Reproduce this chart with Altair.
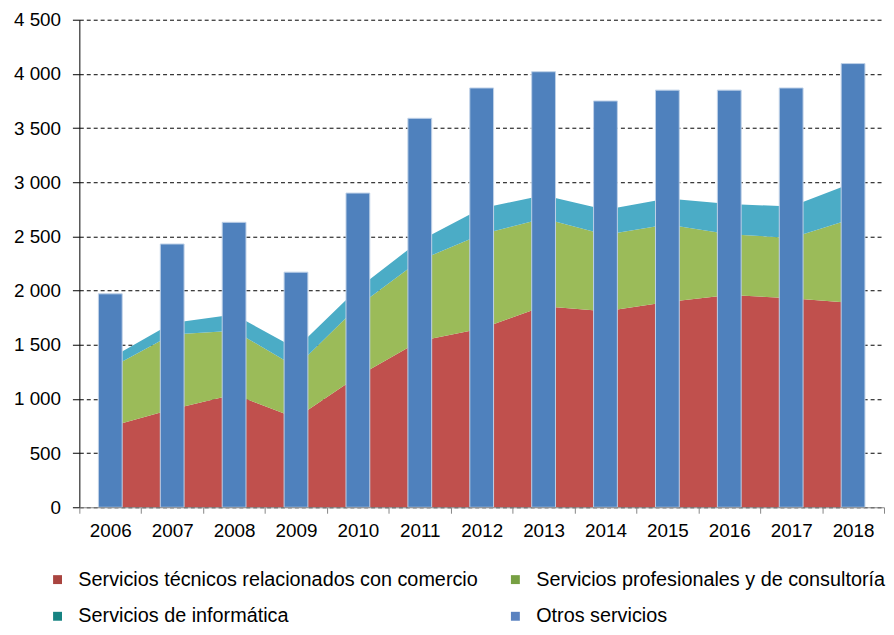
import altair as alt
import pandas as pd

years = [str(y) for y in range(2006, 2019)]
tecnicos = [745, 905, 1040, 825, 1210, 1535, 1650, 1855, 1810, 1895, 1960, 1930, 1885]
profesionales = [540, 690, 590, 470, 645, 745, 870, 810, 705, 715, 560, 555, 780]
informatica = [90, 105, 150, 170, 165, 180, 240, 215, 230, 240, 280, 290, 330]
otros = [1970, 2430, 2630, 2170, 2900, 3590, 3870, 4020, 3750, 3850, 3850, 3870, 4095]

series_names = [
    "Servicios técnicos relacionados con comercio",
    "Servicios profesionales y de consultoría",
    "Servicios de informática",
    "Otros servicios",
]
area_colors = ["#C0504D", "#9BBB59", "#4BACC6"]
bar_color = "#4F81BD"
legend_colors = ["#A9443F", "#77A043", "#168382", "#5A82C0"]
y_ticks = [0, 500, 1000, 1500, 2000, 2500, 3000, 3500, 4000, 4500]

# legend is filled column by column: order so that rows read as in the reference
legend_order = [0, 2, 1, 3]
legend_domain = [series_names[i] for i in legend_order]
legend_range = [legend_colors[i] for i in legend_order]

FONT = "Liberation Sans"

rows = []
for i, y in enumerate(years):
    for k, vals in enumerate([tecnicos, profesionales, informatica]):
        rows.append({"year": y, "serie": series_names[k], "value": vals[i], "ord": k})
area_df = pd.DataFrame(rows)
bar_df = pd.DataFrame({"year": years, "otros": otros})
legend_df = pd.DataFrame({"serie": series_names})

x_scale = alt.Scale(type="band", domain=years, paddingInner=0, paddingOuter=0)
y_scale = alt.Scale(domain=[0, 4500], nice=False, zero=True)

x_axis = alt.Axis(
    title=None, labelFont=FONT, labelFontSize=19, labelColor="black",
    labelAngle=0, labelPadding=9, domainColor="#868686", domainWidth=1,
    tickColor="#868686", tickSize=6, tickBand="extent", grid=False, zindex=1,
)
y_axis = alt.Axis(
    title=None, values=y_ticks, labelFont=FONT, labelFontSize=19,
    labelColor="black", labelPadding=12, tickColor="black", tickSize=7,
    domainColor="black", domainWidth=1, grid=True, gridColor="black",
    gridDash=[4, 3], gridWidth=1,
    labelExpr="replace(format(datum.value, ','), ',', ' ')",
)

areas = alt.Chart(area_df).mark_area(interpolate="linear").encode(
    x=alt.X("year:O", bandPosition=0.5, scale=x_scale, axis=x_axis),
    y=alt.Y("value:Q", stack="zero", scale=y_scale, axis=y_axis),
    color=alt.Color("serie:N", scale=alt.Scale(domain=series_names[:3], range=area_colors), legend=None),
    order=alt.Order("ord:Q", sort="ascending"),
)

bars = alt.Chart(bar_df).mark_bar(size=24, stroke="#BFD1E8", strokeWidth=1).encode(
    x=alt.X("year:O", scale=x_scale, axis=x_axis),
    y=alt.Y("otros:Q", scale=y_scale, axis=y_axis),
    color=alt.value(bar_color),
)

legend_layer = alt.Chart(legend_df).transform_filter("false").mark_square().encode(
    color=alt.Color(
        "serie:N",
        scale=alt.Scale(domain=legend_domain, range=legend_range),
        legend=alt.Legend(
            title=None, orient="none", legendX=-32, legendY=555, columns=2,
            columnPadding=27, rowPadding=17, symbolType="square", symbolSize=81,
            symbolOpacity=1, symbolStrokeWidth=0, labelFont=FONT, labelFontSize=20,
            labelColor="black", labelOffset=11, labelLimit=700, padding=0,
        ),
    )
)

chart = alt.layer(areas, bars, legend_layer).resolve_scale(color="independent").properties(
    width=812, height=492,
    autosize=alt.AutoSizeParams(type="none"),
    padding={"left": 72, "top": 9, "right": 2, "bottom": 118},
).configure_view(stroke=None)

chart.save("out.html", embed_options={"renderer": "svg", "actions": False})
